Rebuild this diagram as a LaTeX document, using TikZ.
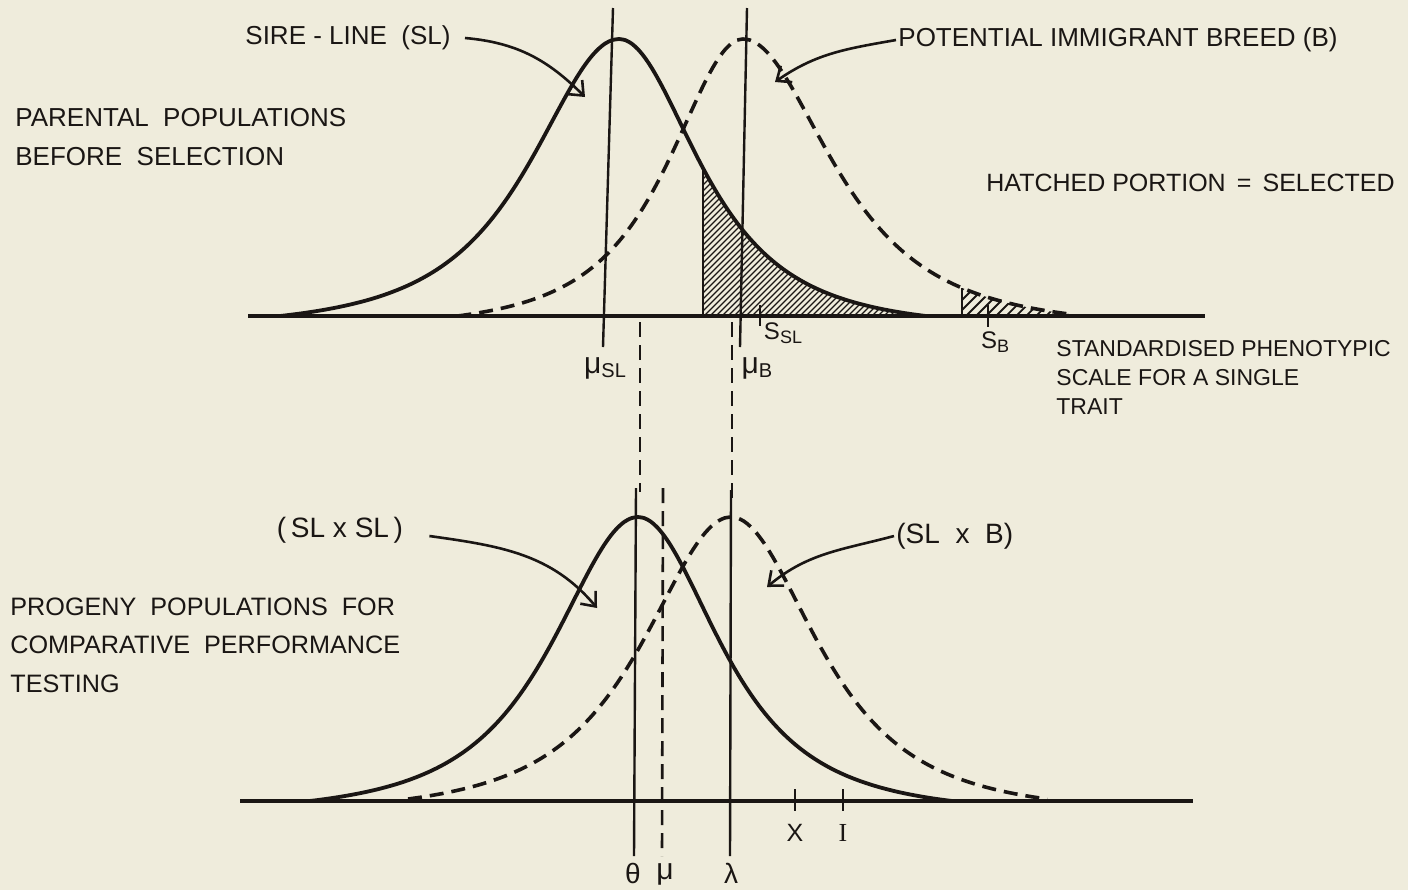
\documentclass[tikz,border=0pt]{standalone}
\usepackage{fontspec}
\setmainfont{Liberation Sans}
\newfontfamily\serifI{Liberation Serif}
\usetikzlibrary{arrows.meta}
\definecolor{paper}{RGB}{239,236,220}
\definecolor{ink}{RGB}{26,22,20}
\begin{document}
\begin{tikzpicture}[x=0.5pt,y=-0.5pt,
  declare function={dens(\z)=max(0,(pow(1+0.5*(\z)*(\z),-1.5)-0.05)/0.95);},
  curve/.style={draw=ink,line width=1.9pt,line join=round,line cap=round},
  dcurve/.style={draw=ink,line width=1.8pt,line join=round,dash pattern=on 7pt off 4pt},
  axisline/.style={draw=ink,line width=1.7pt},
  vline/.style={draw=ink,line width=1.2pt},
  dvline/.style={draw=ink,line width=1.3pt,dash pattern=on 7.5pt off 4pt},
  tick/.style={draw=ink,line width=1.2pt},
  hatch/.style={draw=ink,line width=0.55pt},
  lbl/.style={text=ink,inner sep=0pt,font=\fontsize{13}{19.5}\selectfont},
  blk/.style={lbl,align=left,anchor=west},
  sml/.style={text=ink,inner sep=0pt,align=left,anchor=west,font=\fontsize{11.5}{14.5}\selectfont},
  sym/.style={text=ink,inner sep=0pt,font=\fontsize{14}{16}\selectfont},
  arr/.style={draw=ink,line width=1.3pt,-{Straight Barb[length=6pt,width=10pt]}}
]
\fill[paper] (0,0) rectangle (1408,890);
\useasboundingbox (0,0) rectangle (1408,890);

% ---------------- top panel ----------------
\coordinate (axTL) at (248,316);
\coordinate (axTR) at (1205,316);

% hatched portion under SL
\begin{scope}
\clip (703,317) -- plot[domain=0.977:3.57,samples=40,smooth] ({619+86*\x},{316-277*dens(\x)}) -- (926,317) -- cycle;
\foreach \i in {540,546,...,930} \draw[hatch] (\i,324) -- ++(170,-170);
\end{scope}
% hatched portion under B
\begin{scope}
\clip (962,317) -- plot[domain=2.281:3.57,samples=20,smooth] ({743+96*\x},{316-277*dens(\x)}) -- (1086,317) -- cycle;
\foreach \i in {900,910,...,1090} \draw[hatch,line width=0.9pt] (\i,322) -- ++(60,-60);
\end{scope}
\coordinate (h1b) at (703,316);
\coordinate (h1t) at (703,168);
\coordinate (h2b) at (962,316);
\coordinate (h2t) at (962,288);
\draw[vline] (h1b) -- (h1t);
\draw[vline] (h2b) -- (h2t);

% curves
\draw[curve] plot[domain=-3.57:0,samples=50,smooth] ({619+95*\x},{316-277*dens(\x)})
  -- plot[domain=0:3.57,samples=50,smooth] ({619+86*\x},{316-277*dens(\x)});
\draw[dcurve] plot[domain=-3.57:0,samples=50,smooth] ({743+80*\x},{316-277*dens(\x)})
  -- plot[domain=0:3.4,samples=50,smooth] ({743+96*\x},{316-277*dens(\x)});
\draw[axisline] (axTL) -- (axTR);

% vertical lines
\coordinate (muSLt) at (613,8);
\coordinate (muSLb) at (603,347);
\coordinate (muBt) at (747,8);
\coordinate (muBb) at (740,347);
\draw[vline] (muSLt) -- (muSLb);
\draw[vline] (muBt) -- (muBb);

% ticks
\coordinate (sslT) at (760,305);
\coordinate (sslB) at (760,326);
\coordinate (sbT) at (988,305);
\coordinate (sbB) at (988,327);
\draw[tick] (sslT) -- (sslB);
\draw[tick] (sbT) -- (sbB);

% labels top
\node[sym,font=\fontsize{15}{17}\selectfont] (muSL) at (605,368) {μ\raisebox{-0.3ex}{\fontsize{10}{12}\selectfont SL}};
\node[sym,font=\fontsize{15}{17}\selectfont] (muB) at (757,368) {μ\raisebox{-0.3ex}{\fontsize{10}{12}\selectfont B}};
\node[sym,font=\fontsize{12}{14}\selectfont] (ssl) at (783,333) {S\raisebox{-0.35ex}{\fontsize{9}{11}\selectfont SL}};
\node[sym,font=\fontsize{12}{14}\selectfont] (sb) at (995,342) {S\raisebox{-0.35ex}{\fontsize{9}{11}\selectfont B}};

\node[lbl] (slT) at (348,38) {SIRE - LINE \ (SL)};
\node[lbl,anchor=west] (bT) at (898,40) {POTENTIAL IMMIGRANT BREED (B)};
\node[blk] (parT) at (15,137) {PARENTAL \ POPULATIONS\\BEFORE \ SELECTION};
\node[lbl,anchor=west,font=\fontsize{12.5}{15}\selectfont] (hatT) at (986,183) {HATCHED PORTION \,=\, SELECTED};
\node[sml] (stdT) at (1056,377) {STANDARDISED PHENOTYPIC\\SCALE FOR A SINGLE\\TRAIT};

\coordinate (slTip) at (585,97);
\coordinate (bTip) at (775,82);
\draw[arr] ([xshift=7pt]slT.east) to[out=-5,in=135] (slTip);
\draw[arr] ([xshift=-1pt]bT.west) to[out=190,in=35] (bTip);

% dashed connectors between panels
\coordinate (d1t) at (640,322);
\coordinate (d1b) at (640,492);
\coordinate (d2t) at (732,322);
\coordinate (d2b) at (732,500);
\draw[dvline] (d1t) -- (d1b);
\draw[dvline] (d2t) -- (d2b);

% ---------------- bottom panel ----------------
\coordinate (axBL) at (240,801);
\coordinate (axBR) at (1193,801);
\draw[curve] plot[domain=-3.57:0,samples=50,smooth] ({638+92*\x},{801-284*dens(\x)})
  -- plot[domain=0:3.57,samples=50,smooth] ({638+88*\x},{801-284*dens(\x)});
\draw[dcurve] plot[domain=-3.4:0,samples=50,smooth] ({731+95*\x},{801-284*dens(\x)})
  -- plot[domain=0:3.4,samples=50,smooth] ({731+93*\x},{801-284*dens(\x)});
\draw[axisline] (axBL) -- (axBR);

\coordinate (tht) at (636,488);
\coordinate (thb) at (634,856);
\coordinate (mut) at (663,488);
\coordinate (mub) at (662,856);
\coordinate (lat) at (731,490);
\coordinate (lab) at (730,856);
\draw[vline] (tht) -- (thb);
\draw[dvline] (mut) -- (mub);
\draw[vline] (lat) -- (lab);

\coordinate (xT) at (795,789);
\coordinate (xB) at (795,811);
\coordinate (iT) at (843,789);
\coordinate (iB) at (843,811);
\draw[tick] (xT) -- (xB);
\draw[tick] (iT) -- (iB);

\node[sym] (thL) at (633,873) {θ};
\node[sym,font=\fontsize{15}{17}\selectfont] (muL) at (665,874) {μ};
\node[sym] (laL) at (731,873) {λ};
\node[sym,font=\fontsize{12.5}{14}\selectfont] (xL) at (795,833) {X};
\node[sym,font=\fontsize{13}{14}\serifI\selectfont] (iL) at (843,833) {I};

\node[lbl,font=\fontsize{14}{16}\selectfont] (sssT) at (340,530) {(\,SL x SL\,)};
\node[lbl,anchor=west,font=\fontsize{14}{16}\selectfont] (sbxT) at (896,536) {(SL \ x \ B)};
\node[blk,font=\fontsize{12.6}{19.3}\selectfont] (progT) at (10,645) {PROGENY \ POPULATIONS \ FOR\\COMPARATIVE \ PERFORMANCE\\TESTING};

\coordinate (sssTip) at (597,608);
\coordinate (sbxTip) at (767,587);
\draw[arr] ([xshift=13pt,yshift=-3pt]sssT.east) to[out=-8,in=130] (sssTip);
\draw[arr] ([xshift=-1pt]sbxT.west) to[out=195,in=40] (sbxTip);
\end{tikzpicture}
\end{document}
